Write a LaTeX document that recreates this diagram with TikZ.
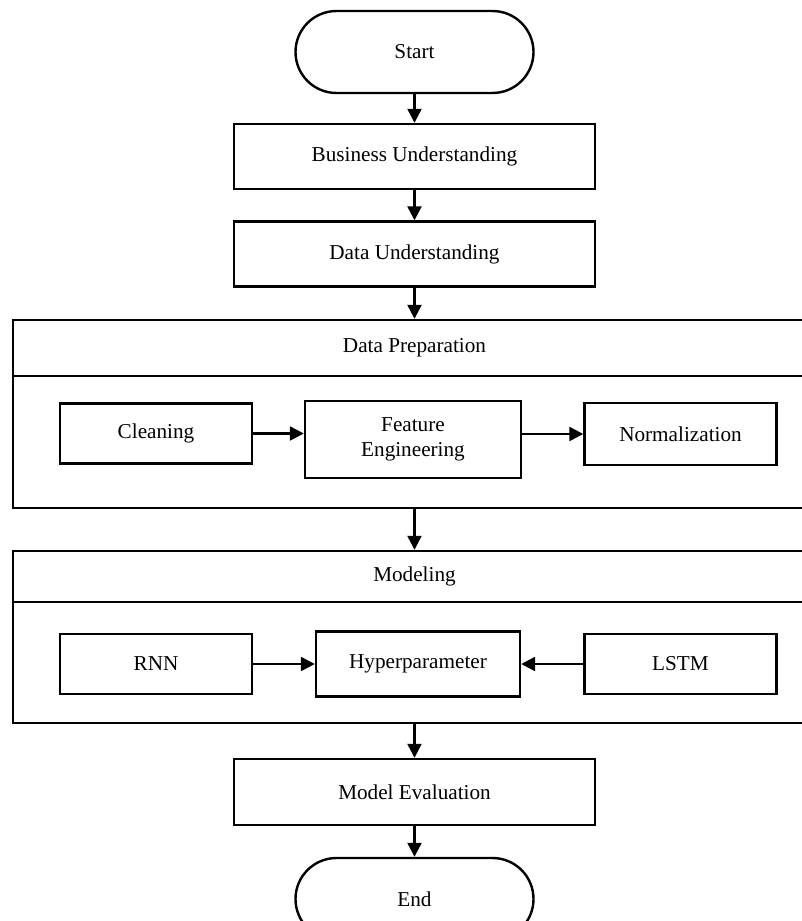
\documentclass[tikz,border=0pt]{standalone}
\usepackage{fontspec}
\setmainfont{Liberation Serif}
\usetikzlibrary{arrows.meta}

\begin{document}
\begin{tikzpicture}[x=0.5pt, y=-0.5pt,
	font=\fontsize{10.6}{12.5}\selectfont,
	line width=1.2pt,
	>={Triangle[length=7pt, width=7pt]},
	box/.style={rectangle, draw=black, inner sep=0pt, align=center},
	term/.style={box, rounded corners=20.5pt, minimum width=119pt, minimum height=41pt},
	stage/.style={box, minimum width=180.5pt, minimum height=32.5pt},
	lane/.style={box, minimum width=401.5pt},
	sub/.style={box, minimum width=96pt, minimum height=30pt}]
	\path[use as bounding box, clip] (0,0) rectangle (802,921);
	\node[term] (start) at (414.5,52) {Start};
	\node[stage] (bu) at (414.5,156.5) {Business Understanding};
	\node[stage] (du) at (414.5,254) {Data Understanding};
	\node[lane, minimum height=28pt] (dp) at (414.5,348) {Data Preparation};
	\node[lane, minimum height=66pt] (dpbody) at (414.5,442) {};
	\node[sub] (clean) at (156,433.5) {Cleaning};
	\node[box, minimum width=108pt, minimum height=38.5pt] (feat) at (413,439.5) {Feature\\Engineering};
	\node[sub, minimum height=31pt] (norm) at (680.5,434) {Normalization};
	\node[lane, minimum height=25.5pt] (mod) at (414.5,576.5) {Modeling};
	\node[lane, minimum height=60.5pt] (modbody) at (414.5,662.5) {};
	\node[sub] (rnn) at (156,664) {RNN};
	\node[box, minimum width=102pt, minimum height=32.5pt] (hyp) at (418,664) {Hyperparameter};
	\node[sub] (lstm) at (680.5,664) {LSTM};
	\node[stage, minimum height=33pt] (me) at (414.5,792) {Model Evaluation};
	\node[term] (end) at (414.5,899) {End};
	\draw[->]
				(start) edge (bu)
				(bu) edge (du)
				(du) edge (dp)
				(dpbody) edge (mod)
				(modbody) edge (me)
				(me) edge (end)
				(clean) edge (clean.east -| feat.west)
				(norm) edge[<-] (norm.west -| feat.east)
				(rnn) edge (hyp)
				(lstm) edge (hyp);
\end{tikzpicture}
\end{document}
